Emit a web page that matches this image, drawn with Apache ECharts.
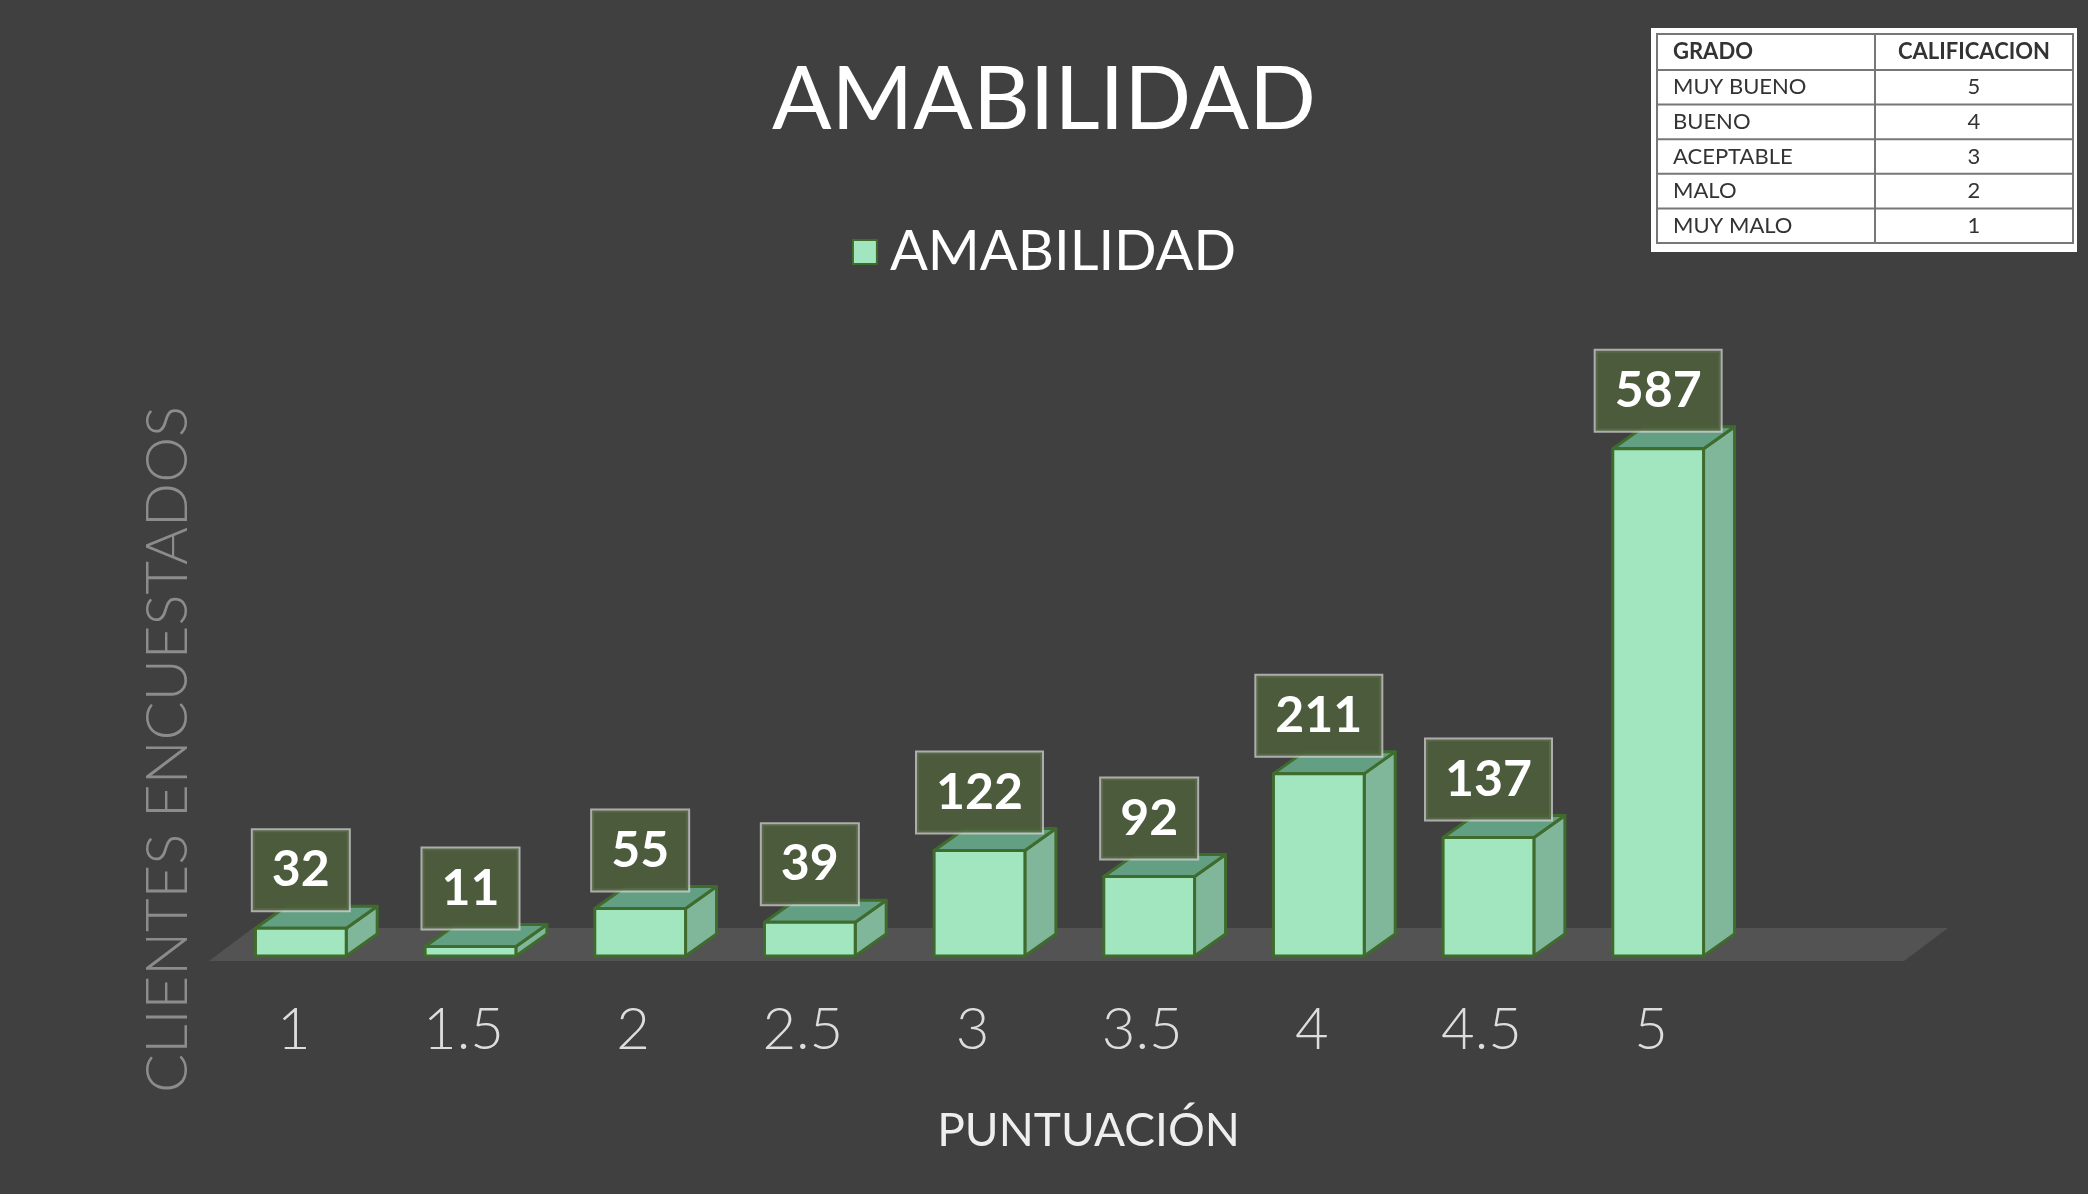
<!DOCTYPE html>
<html>
<head>
<meta charset="utf-8">
<title>AMABILIDAD</title>
<script src="https://cdn.jsdelivr.net/npm/echarts@6/dist/echarts.min.js"></script>
<style>
    html, body { margin: 0; padding: 0; background: #404040; }
    #main { width: 2088px; height: 1194px; }
</style>
</head>
<body>
<div id="main"></div>
<script>
// datos del grafico
var puntuaciones = ['1', '1.5', '2', '2.5', '3', '3.5', '4', '4.5', '5'];
var clientes = [32, 11, 55, 39, 122, 92, 211, 137, 587];
// tabla de grados
var grados = ['MUY BUENO', 'BUENO', 'ACEPTABLE', 'MALO', 'MUY MALO'];
var calificaciones = [5, 4, 3, 2, 1];

(function() {
    var myChart = echarts.init(document.getElementById('main'));

    // colores de la barra 3d
    var frontColor = '#a1e6be';
    var sideColor = '#80b699';
    var topColor = '#63a083';
    var edgeColor = '#3f6b2d';
    var dx = 31, dy = 22;

    // barras con efecto 3d
    function renderBar(params, api) {
        var idx = api.value(0);
        var val = api.value(1);
        var base = api.coord([idx, 0]);
        var top = api.coord([idx, val]);
        var bw = api.size([1, 0])[0] * 0.535;
        var xl = base[0] - bw / 2;
        var xr = base[0] + bw / 2;
        var yb = base[1];
        var yt = top[1];
        var edge = { stroke: edgeColor, lineWidth: 3, lineJoin: 'round' };
        return {
            type: 'group',
            children: [{
                type: 'polygon',
                shape: { points: [[xr, yt], [xr + dx, yt - dy], [xr + dx, yb - dy], [xr, yb]] },
                style: Object.assign({ fill: sideColor }, edge)
            }, {
                type: 'polygon',
                shape: { points: [[xl, yt], [xl + dx, yt - dy], [xr + dx, yt - dy], [xr, yt]] },
                style: Object.assign({ fill: topColor }, edge)
            }, {
                type: 'rect',
                shape: { x: xl, y: yt, width: bw, height: yb - yt },
                style: Object.assign({ fill: frontColor }, edge)
            }, {
                type: 'text',
                z2: 10,
                style: {
                    text: String(val),
                    x: base[0],
                    y: yt - 18,
                    align: 'center',
                    verticalAlign: 'bottom',
                    font: 'bold 50px Lato',
                    lineHeight: 52,
                    fill: '#ffffff',
                    backgroundColor: 'rgba(76,94,58,0.88)',
                    borderColor: 'rgba(210,210,210,0.75)',
                    borderWidth: 2,
                    padding: [14, 19]
                }
            }]
        };
    }

    // piso del grafico
    function renderFloor(params, api) {
        var cs = params.coordSys;
        var y0 = api.coord([0, 0])[1];
        return {
            type: 'polygon',
            shape: {
                points: [
                    [cs.x - 7, y0 + 5],
                    [cs.x + cs.width + 161, y0 + 5],
                    [cs.x + cs.width + 205, y0 - 28],
                    [cs.x + 37, y0 - 28]
                ]
            },
            style: { fill: '#535353' }
        };
    }

    // tabla de calificacion
    var tabla = [];
    var tx = 1651, ty = 28, tw = 426, th = 224;
    var ix = 1657, iy = 34, iw = 416, ih = 209;
    var colX = 1875, headH = 36, rowH = (ih - headH) / grados.length;
    tabla.push({ type: 'rect', shape: { x: tx, y: ty, width: tw, height: th }, style: { fill: '#ffffff' } });
    tabla.push({ type: 'rect', shape: { x: ix, y: iy, width: iw, height: ih }, style: { fill: 'none', stroke: '#777777', lineWidth: 2 } });
    tabla.push({ type: 'line', shape: { x1: colX, y1: iy, x2: colX, y2: iy + ih }, style: { stroke: '#777777', lineWidth: 2 } });
    tabla.push({ type: 'text', style: { text: 'GRADO', x: ix + 16, y: iy + headH / 2, verticalAlign: 'middle', font: 'bold 22px Lato', fill: '#333333' } });
    tabla.push({ type: 'text', style: { text: 'CALIFICACION', x: (colX + ix + iw) / 2, y: iy + headH / 2, align: 'center', verticalAlign: 'middle', font: 'bold 22px Lato', fill: '#333333' } });
    grados.forEach(function(g, i) {
        var ry = iy + headH + i * rowH;
        tabla.push({ type: 'line', shape: { x1: ix, y1: ry, x2: ix + iw, y2: ry }, style: { stroke: '#777777', lineWidth: 2 } });
        tabla.push({ type: 'text', style: { text: g, x: ix + 16, y: ry + rowH / 2, verticalAlign: 'middle', font: '22px Lato', fill: '#333333' } });
        tabla.push({ type: 'text', style: { text: String(calificaciones[i]), x: (colX + ix + iw) / 2, y: ry + rowH / 2, align: 'center', verticalAlign: 'middle', font: '22px Lato', fill: '#333333' } });
    });

    var option = {
        backgroundColor: '#404040',
        title: {
            text: 'AMABILIDAD',
            left: 'center',
            top: 52,
            textStyle: { color: '#ffffff', fontFamily: 'Lato', fontWeight: 'normal', fontSize: 88 }
        },
        legend: {
            top: 219,
            left: 'center',
            itemWidth: 24,
            itemHeight: 24,
            data: [{
                name: 'AMABILIDAD',
                icon: 'rect',
                itemStyle: { color: frontColor, borderColor: edgeColor, borderWidth: 2 }
            }],
            textStyle: { color: '#ffffff', fontFamily: 'Lato', fontSize: 56, padding: [0, 0, 0, 8] }
        },
        grid: {
            left: 216,
            right: 345,
            top: 351,
            bottom: 238,
            containLabel: false
        },
        xAxis: {
            type: 'category',
            data: puntuaciones,
            axisLine: { show: false },
            axisTick: { show: false },
            splitLine: { show: false },
            axisLabel: {
                color: '#dddddd',
                fontFamily: 'Lato',
                fontWeight: 300,
                fontSize: 58,
                margin: 45,
                padding: [0, 14, 0, 0]
            },
            name: 'PUNTUACIÓN',
            nameLocation: 'middle',
            nameGap: 152,
            nameTextStyle: {
                color: '#eeeeee',
                fontFamily: 'Lato',
                fontSize: 46,
                padding: [0, 0, 0, 218]
            }
        },
        yAxis: {
            type: 'value',
            min: 0,
            max: 700,
            axisLine: { show: false },
            axisTick: { show: false },
            axisLabel: { show: false },
            splitLine: { show: false },
            name: 'CLIENTES ENCUESTADOS',
            nameLocation: 'middle',
            nameRotate: 90,
            nameGap: 19,
            nameTextStyle: {
                color: '#8c8c8c',
                fontFamily: 'Lato',
                fontWeight: 300,
                fontSize: 58,
                padding: [0, 192, 0, 0]
            }
        },
        graphic: tabla,
        series: [{
            name: 'piso',
            type: 'custom',
            renderItem: renderFloor,
            data: [[0, 0]],
            silent: true,
            z: 1
        }, {
            name: 'AMABILIDAD',
            type: 'custom',
            renderItem: renderBar,
            itemStyle: { color: frontColor },
            encode: { x: 0, y: 1 },
            data: clientes.map(function(v, i) { return [i, v]; }),
            z: 2
        }]
    };

    myChart.setOption(option);
})();
</script>
</body>
</html>
